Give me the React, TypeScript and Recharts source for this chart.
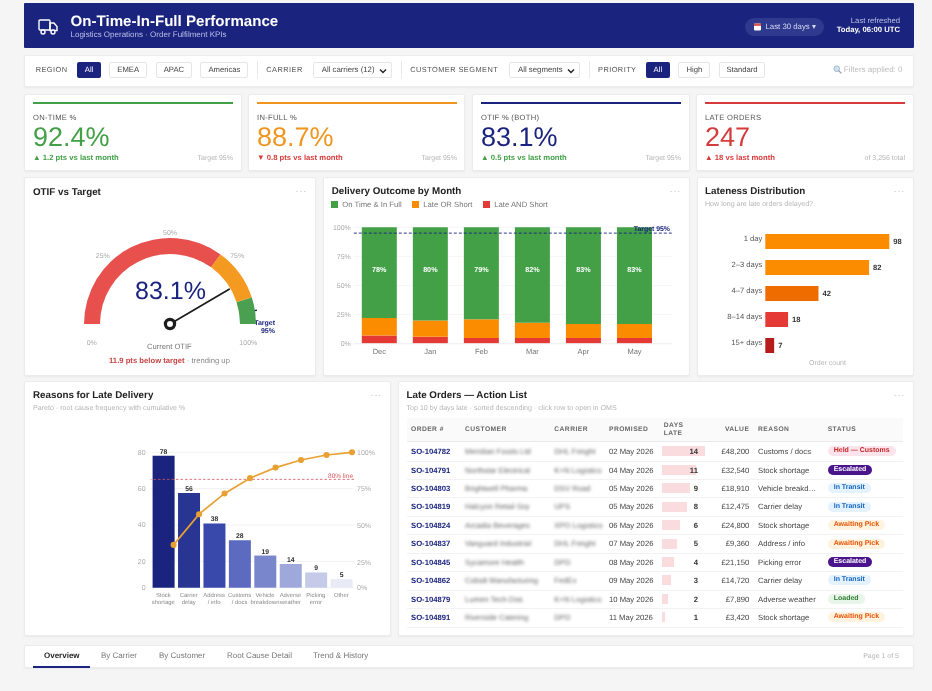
import React from "react";
import {
  PieChart, Pie, Cell, BarChart, Bar, XAxis, YAxis, CartesianGrid, ReferenceLine,
  LabelList, ComposedChart, Line,
} from "recharts";

const NAVY = "#1a237e";
const FONT = "'Liberation Sans', Arial, sans-serif";

// ---------- data ----------
const regionOptions = ["All", "EMEA", "APAC", "Americas"];
const priorityOptions = ["All", "High", "Standard"];
const tabs = ["Overview", "By Carrier", "By Customer", "Root Cause Detail", "Trend & History"];

const kpiLabels = ["ON-TIME %", "IN-FULL %", "OTIF % (BOTH)", "LATE ORDERS"];
const kpiValues = ["92.4%", "88.7%", "83.1%", "247"];
const kpiDeltas = ["▲ 1.2 pts vs last month", "▼ 0.8 pts vs last month", "▲ 0.5 pts vs last month", "▲ 18 vs last month"];
const kpiNotes = ["Target 95%", "Target 95%", "Target 95%", "of 3,256 total"];
const kpiColors = ["#43a047", "#f0951f", NAVY, "#d63b3b"];
const kpiDeltaColors = ["#43a047", "#d63b3b", "#43a047", "#d63b3b"];

const gaugeBands = [
  { name: "Below", value: 70, color: "#e8504e" },
  { name: "Near", value: 20, color: "#f59a20" },
  { name: "On target", value: 10, color: "#4a9f50" },
];
const gaugeCurrent = 83.1;
const gaugeTarget = 95;
const gaugeTicks = [25, 50, 75];

const months = ["Dec", "Jan", "Feb", "Mar", "Apr", "May"];
const onTimeFull = [78, 80, 79, 82, 83, 83];
const lateOrShort = [15, 14, 16, 13, 12, 12];
const lateAndShort = [7, 6, 5, 5, 5, 5];
const outcomeData = months.map((m, i) => ({ m, a: onTimeFull[i], b: lateOrShort[i], c: lateAndShort[i] }));
const outcomeLegend = ["On Time & In Full", "Late OR Short", "Late AND Short"];

const lateBuckets = ["1 day", "2–3 days", "4–7 days", "8–14 days", "15+ days"];
const lateCounts = [98, 82, 42, 18, 7];
const lateColors = ["#fb8c00", "#fb8c00", "#ef6c00", "#e53935", "#b71c1c"];
const lateData = lateBuckets.map((b, i) => ({ b, v: lateCounts[i] }));

const reasons = ["Stock\nshortage", "Carrier\ndelay", "Address\n/ info", "Customs\n/ docs", "Vehicle\nbreakdown", "Adverse\nweather", "Picking\nerror", "Other"];
const reasonCounts = [78, 56, 38, 28, 19, 14, 9, 5];
const reasonCum = [31.6, 54.3, 69.6, 80.9, 88.7, 94.3, 98, 100];
const reasonColors = ["#1a237e", "#283593", "#3949ab", "#5c6bc0", "#7986cb", "#9fa8da", "#c5cae9", "#e8eaf6"];
const paretoData = reasons.map((r, i) => ({ r, n: reasonCounts[i], c: reasonCum[i] }));

const orderIds = ["SO-104782", "SO-104791", "SO-104803", "SO-104819", "SO-104824", "SO-104837", "SO-104845", "SO-104862", "SO-104879", "SO-104891"];
const customers = ["Meridian Foods Ltd", "Northstar Electrical", "Brightwell Pharma", "Halcyon Retail Grp", "Arcadia Beverages", "Vanguard Industrial", "Sycamore Health", "Cobalt Manufacturing", "Lumen Tech Dist.", "Riverside Catering"];
const carriers = ["DHL Freight", "K+N Logistics", "DSV Road", "UPS", "XPO Logistics", "DHL Freight", "DPD", "FedEx", "K+N Logistics", "DPD"];
const promised = ["02 May 2026", "04 May 2026", "05 May 2026", "05 May 2026", "06 May 2026", "07 May 2026", "08 May 2026", "09 May 2026", "10 May 2026", "11 May 2026"];
const daysLate = [14, 11, 9, 8, 6, 5, 4, 3, 2, 1];
const orderValues = ["£48,200", "£32,540", "£18,910", "£12,475", "£24,800", "£9,360", "£21,150", "£14,720", "£7,890", "£3,420"];
const orderReasons = ["Customs / docs", "Stock shortage", "Vehicle breakd…", "Carrier delay", "Stock shortage", "Address / info", "Picking error", "Carrier delay", "Adverse weather", "Stock shortage"];
const orderStatus = ["Held — Customs", "Escalated", "In Transit", "In Transit", "Awaiting Pick", "Awaiting Pick", "Escalated", "In Transit", "Loaded", "Awaiting Pick"];
const statusStyles: Record<string, { bg: string; fg: string }> = {
  "Held — Customs": { bg: "#fce4ec", fg: "#c62828" },
  Escalated: { bg: "#4a148c", fg: "#ffffff" },
  "In Transit": { bg: "#e3f2fd", fg: "#1565c0" },
  "Awaiting Pick": { bg: "#fff3e0", fg: "#e65100" },
  Loaded: { bg: "#e8f5e9", fg: "#2e7d32" },
};

// ---------- helpers ----------
function T({ x, y, right, size, color, bold, spacing, children, style }: any) {
  const pos: any = right !== undefined ? { right: 932 - right } : { left: x };
  return (
    <span style={{ position: "absolute", ...pos, top: y + 0.8, transform: "translateY(-50%)", fontSize: size, color,
      fontWeight: bold ? 700 : 400, letterSpacing: spacing, whiteSpace: "nowrap", lineHeight: 1, ...style }}>
      {children}
    </span>
  );
}

function Card({ x, y, r, b }: any) {
  return <div style={{ position: "absolute", left: x, top: y, width: r - x, height: b - y, background: "#fff",
    border: "1px solid #ececec", boxSizing: "border-box", borderRadius: 2, boxShadow: "0 1px 2px rgba(0,0,0,0.05)" }} />;
}

function Btn({ x, r, label, active }: any) {
  return (
    <div style={{ position: "absolute", left: x, top: 61.5, width: r - x, height: 16, boxSizing: "border-box",
      background: active ? NAVY : "#fff", border: active ? "none" : "1px solid #e6e6e6", borderRadius: 2,
      color: active ? "#fff" : "#444", fontSize: 7.7, display: "flex", alignItems: "center", justifyContent: "center" }}>
      {label}
    </div>
  );
}

function Select({ x, r, label }: any) {
  return (
    <div style={{ position: "absolute", left: x, top: 61.5, width: r - x, height: 16, boxSizing: "border-box",
      background: "#fff", border: "1px solid #e6e6e6", borderRadius: 2, color: "#444", fontSize: 7.8 }}>
      <span style={{ position: "absolute", left: 8, top: 3.5, lineHeight: 1, whiteSpace: "nowrap" }}>{label}</span>
      <svg width="8" height="6" style={{ position: "absolute", right: 4, top: 5 }}>
        <path d="M1 1.5 L4 4.5 L7 1.5" fill="none" stroke="#222" strokeWidth="1.4" />
      </svg>
    </div>
  );
}

function Dots({ right, y }: any) {
  return <T right={right} y={y} size={9} color="#bbb" spacing={0.8}>···</T>;
}

function Kpi({ i }: { i: number }) {
  const lefts = [33, 257, 481, 705];
  const rights = [233, 457, 681, 905];
  const x = lefts[i], r = rights[i];
  return (
    <>
      <div style={{ position: "absolute", left: x, top: 102, width: r - x, height: 2, background: kpiColors[i] }} />
      <T x={x} y={117.4} size={7.6} color="#555" spacing={0.3}>{kpiLabels[i]}</T>
      <T x={x} y={136.2} size={27} color={kpiColors[i]}>{kpiValues[i]}</T>
      <T x={x} y={157} size={7.7} color={kpiDeltaColors[i]} bold>{kpiDeltas[i]}</T>
      <T right={r} y={157} size={7} color="#b5b5b5">{kpiNotes[i]}</T>
    </>
  );
}

// ---------- gauge ----------
const GCX = 146, GCY = 147;
function polar(pct: number, r: number) {
  const a = Math.PI * (1 - pct / 100);
  return { x: GCX + r * Math.cos(a), y: GCY - r * Math.sin(a) };
}
function GaugeOverlay() {
  const tip = polar(gaugeCurrent, 68.6);
  const t1 = polar(gaugeTarget, 70);
  const t2 = polar(gaugeTarget, 88);
  const tick = { fontSize: 7, fill: "#aaa", textAnchor: "middle" as const, dominantBaseline: "central" as const };
  return (
    <g>
      {gaugeTicks.map((v) => {
        const p = polar(v, v === 50 ? 91 : 95);
        return <text key={v} x={p.x} y={p.y} {...tick}>{v}%</text>;
      })}
      <text x={GCX - 78.3} y={GCY + 19.3} {...tick}>0%</text>
      <text x={GCX + 78.3} y={GCY + 19.3} {...tick}>100%</text>
      <line x1={t1.x} y1={t1.y} x2={t2.x} y2={t2.y} stroke="#0d2060" strokeWidth={1.3} />
      <text x={251} y={146.3} fontSize={7} fontWeight={700} fill={NAVY} textAnchor="end" dominantBaseline="central">Target</text>
      <text x={251} y={154.8} fontSize={7} fontWeight={700} fill={NAVY} textAnchor="end" dominantBaseline="central">{gaugeTarget}%</text>
      <line x1={GCX} y1={GCY} x2={tip.x} y2={tip.y} stroke="#1c1c1c" strokeWidth={1.7} strokeLinecap="round" />
      <circle cx={GCX} cy={GCY} r={4.6} fill="#fff" stroke="#1c1c1c" strokeWidth={3.2} />
    </g>
  );
}

// ---------- custom ticks ----------
function LateTick({ x, y, payload }: any) {
  return <text x={x} y={y - 2.7} fontSize={7.6} fill="#555" textAnchor="end" dominantBaseline="central">{payload.value}</text>;
}
function ReasonTick({ x, y, payload }: any) {
  const lines = String(payload.value).split("\n");
  return (
    <text x={x} y={y} fontSize={5.9} fill="#888" textAnchor="middle">
      {lines.map((l, i) => <tspan key={i} x={x} dy={i === 0 ? 7.2 : 6.7}>{l}</tspan>)}
    </text>
  );
}
function PctLabel({ x, y, width, value }: any) {
  return <text x={x + width / 2} y={y + 41.7} fontSize={7.2} fontWeight={700} fill="#fff" textAnchor="middle" dominantBaseline="central">{value}%</text>;
}

// ---------- table ----------
const COL = { order: 411, cust: 465, carrier: 554.3, prom: 609, days: 663.7, valueR: 749.3, reason: 758, status: 827.7 };
const ROW0 = 451.3, ROWH = 18.45;

function Table() {
  const h = { size: 6.7, color: "#666", bold: true, spacing: 0.45 };
  return (
    <>
      <div style={{ position: "absolute", left: 407, top: 418, width: 496, height: 24, background: "#fafafa", borderBottom: "1px solid #eaeaea", boxSizing: "border-box" }} />
      <T x={COL.order} y={429.3} {...h}>ORDER #</T>
      <T x={COL.cust} y={429.3} {...h}>CUSTOMER</T>
      <T x={COL.carrier} y={429.3} {...h}>CARRIER</T>
      <T x={COL.prom} y={429.3} {...h}>PROMISED</T>
      <T x={COL.days} y={425.3} {...h}>DAYS</T>
      <T x={COL.days} y={433} {...h}>LATE</T>
      <T right={COL.valueR} y={429.3} {...h}>VALUE</T>
      <T x={COL.reason} y={429.3} {...h}>REASON</T>
      <T x={COL.status} y={429.3} {...h}>STATUS</T>
      {orderIds.map((id, i) => {
        const y = ROW0 + ROWH * i;
        const st = statusStyles[orderStatus[i]];
        return (
          <React.Fragment key={id}>
            <div style={{ position: "absolute", left: 407, top: y + 9.2, width: 496, height: 1, background: "#f2f2f2" }} />
            <T x={COL.order} y={y} size={7.7} color={NAVY} bold>{id}</T>
            <T x={COL.cust} y={y} size={7.7} color="#666" style={{ filter: "blur(1.5px)" }}>{customers[i]}</T>
            <T x={COL.carrier} y={y} size={7.7} color="#666" style={{ filter: "blur(1.5px)" }}>{carriers[i]}</T>
            <T x={COL.prom} y={y} size={7.7} color="#444">{promised[i]}</T>
            <div style={{ position: "absolute", left: 662, top: y - 5, width: daysLate[i] * 3.07, height: 10, background: "#fadcdf" }} />
            <T right={698} y={y} size={7.7} color="#333" bold>{daysLate[i]}</T>
            <T right={COL.valueR} y={y} size={7.7} color="#444">{orderValues[i]}</T>
            <T x={COL.reason} y={y} size={7.7} color="#444">{orderReasons[i]}</T>
            <span style={{ position: "absolute", left: COL.status, top: y - 5, height: 10, lineHeight: "10px", padding: "0 6px",
              borderRadius: 5, background: st.bg, color: st.fg, fontSize: 7, fontWeight: 700, whiteSpace: "nowrap" }}>{orderStatus[i]}</span>
          </React.Fragment>
        );
      })}
    </>
  );
}

const legendX = [331.3, 412.3, 483.3];
const legendColors = ["#43a047", "#fb8c00", "#e53935"];
const tabX = [44, 101, 159, 227, 313];
const pctTicksShown = [7.5, 25, 50, 75, 100];
const countTicksShown = [5.5, 20, 40, 60, 80];

export default function App() {
  return (
    <div style={{ position: "absolute", left: 0, top: 0, width: 932, height: 691, background: "#f5f5f5", overflow: "hidden", fontFamily: FONT, textRendering: "geometricPrecision", filter: "blur(0.3px)" }}>
      {/* header */}
      <div style={{ position: "absolute", left: 24, top: 3, width: 890, height: 45, background: NAVY, borderRadius: 1 }} />
      <svg width="22" height="18" style={{ position: "absolute", left: 38, top: 18 }} fill="none" stroke="#fff" strokeWidth="1.4">
        <rect x="1" y="2" width="11" height="10" rx="1" />
        <path d="M12 5 H16 L19 8.5 V12.5 H12 Z" />
        <circle cx="5" cy="14" r="2" fill={NAVY} />
        <circle cx="15" cy="14" r="2" fill={NAVY} />
      </svg>
      <T x={70.5} y={21} size={15.1} color="#fff" bold>On-Time-In-Full Performance</T>
      <T x={70.5} y={34.5} size={8} color="#b9c0e8">Logistics Operations · Order Fulfilment KPIs</T>
      <div style={{ position: "absolute", left: 745, top: 17.7, width: 79, height: 18, borderRadius: 9, background: "#2f3a8f" }} />
      <svg width="7" height="8" style={{ position: "absolute", left: 754, top: 22.5 }}>
        <rect x="0" y="0.5" width="7" height="7" rx="1" fill="#fff" />
        <rect x="0" y="0.5" width="7" height="2.4" fill="#d9534f" />
      </svg>
      <T x={765.5} y={26.2} size={7.8} color="#d5d9f2">Last 30 days ▾</T>
      <T right={900} y={20.5} size={7.7} color="#b9c0e8">Last refreshed</T>
      <T right={900} y={29.5} size={7.7} color="#fff" bold>Today, 06:00 UTC</T>

      {/* filters */}
      <Card x={24} y={55} r={914} b={87} />
      <T x={35.7} y={69} size={7.4} color="#555" spacing={0.45}>REGION</T>
      <Btn x={77.3} r={101} label={regionOptions[0]} active />
      <Btn x={109.4} r={147} label={regionOptions[1]} />
      <Btn x={155.8} r={192} label={regionOptions[2]} />
      <Btn x={200.4} r={248.5} label={regionOptions[3]} />
      <div style={{ position: "absolute", left: 257.4, top: 61, width: 1, height: 17, background: "#e8e8e8" }} />
      <T x={266.3} y={69} size={7.4} color="#555" spacing={0.45}>CARRIER</T>
      <Select x={312.7} r={392.4} label="All carriers (12)" />
      <div style={{ position: "absolute", left: 401.3, top: 61, width: 1, height: 17, background: "#e8e8e8" }} />
      <T x={410.2} y={69} size={7.4} color="#555" spacing={0.45}>CUSTOMER SEGMENT</T>
      <Select x={509} r={580.3} label="All segments" />
      <div style={{ position: "absolute", left: 589, top: 61, width: 1, height: 17, background: "#e8e8e8" }} />
      <T x={598} y={69} size={7.4} color="#555" spacing={0.45}>PRIORITY</T>
      <Btn x={645.7} r={670} label={priorityOptions[0]} active />
      <Btn x={678.4} r={710.5} label={priorityOptions[1]} />
      <Btn x={718.8} r={765.2} label={priorityOptions[2]} />
      <svg width="9" height="9" style={{ position: "absolute", left: 832.5, top: 65 }} fill="none">
        <circle cx="3.7" cy="3.7" r="2.8" fill="#cfe3f1" stroke="#9db9cc" strokeWidth="1" />
        <path d="M5.8 5.8 L8.4 8.4" stroke="#8fa3b2" strokeWidth="1.3" />
      </svg>
      <T right={902.5} y={69} size={8} color="#bbb">Filters applied: 0</T>

      {/* KPI */}
      <Card x={24} y={94} r={241.5} b={171} />
      <Card x={248} y={94} r={465} b={171} />
      <Card x={472} y={94} r={690} b={171} />
      <Card x={696} y={94} r={914} b={171} />
      {[0, 1, 2, 3].map((i) => <Kpi key={i} i={i} />)}

      {/* Gauge card */}
      <Card x={24} y={177} r={316} b={376} />
      <T x={33} y={191.7} size={9.8} color="#222" bold>OTIF vs Target</T>
      <Dots right={307} y={190.5} />
      <div style={{ position: "absolute", left: 24, top: 177 }}>
        <PieChart width={292} height={199} margin={{ top: 0, right: 0, bottom: 0, left: 0 }}>
          <Pie data={gaugeBands} dataKey="value" cx={GCX} cy={GCY} startAngle={180} endAngle={0}
            innerRadius={70} outerRadius={86} stroke="none" isAnimationActive={false}>
            {gaugeBands.map((b) => <Cell key={b.name} fill={b.color} />)}
          </Pie>
          <GaugeOverlay />
        </PieChart>
      </div>
      <T x={135} y={290.3} size={25} color={NAVY} style={{ width: 70, textAlign: "center" }}>83.1%</T>
      <T x={147} y={345.7} size={7.6} color="#777">Current OTIF</T>
      <T x={109} y={360} size={7.7} color="#888">
        <b style={{ color: "#c84545" }}>11.9 pts below target</b> · trending up
      </T>

      {/* Delivery outcome */}
      <Card x={323} y={177} r={690} b={376} />
      <T x={331.8} y={191} size={9.8} color="#222" bold>Delivery Outcome by Month</T>
      <Dots right={681} y={190.5} />
      {outcomeLegend.map((l, i) => (
        <React.Fragment key={l}>
          <div style={{ position: "absolute", left: legendX[i], top: 201.2, width: 7, height: 7, background: legendColors[i] }} />
          <T x={legendX[i] + 11} y={204.5} size={7.7} color="#777">{l}</T>
        </React.Fragment>
      ))}
      <div style={{ position: "absolute", left: 323, top: 177 }}>
        <BarChart width={367} height={199} data={outcomeData} margin={{ top: 50.3, right: 18, bottom: 12.3, left: 0 }} barSize={35}>
          <CartesianGrid vertical={false} stroke="#f6f6f6" />
          <XAxis dataKey="m" height={20} axisLine={{ stroke: "#f0f0f0" }} tickLine={false} tickSize={0} padding={{ right: 12 }}
            tick={{ fontSize: 7.5, fill: "#777" }} tickMargin={5} />
          <YAxis width={30.8} domain={[0, 100]} ticks={[0, 25, 50, 75, 100]} axisLine={false} tickLine={false} tickSize={0} interval={0}
            tickFormatter={(v: number) => `${v}%`} tick={{ fontSize: 7, fill: "#aaa" }} tickMargin={3} />
          <Bar dataKey="c" stackId="s" fill="#e53935" isAnimationActive={false} />
          <Bar dataKey="b" stackId="s" fill="#fb8c00" isAnimationActive={false} />
          <Bar dataKey="a" stackId="s" fill="#43a047" isAnimationActive={false}>
            <LabelList dataKey="a" content={PctLabel as any} />
          </Bar>
          <ReferenceLine y={95} stroke={NAVY} strokeDasharray="3 2" strokeWidth={0.9}
            label={{ value: "Target 95%", position: "insideBottomRight", fontSize: 6.9, fontWeight: 700, fill: NAVY, offset: 2 }} />
        </BarChart>
      </div>

      {/* Lateness */}
      <Card x={697} y={177} r={914} b={376} />
      <T x={705} y={191} size={9.8} color="#222" bold>Lateness Distribution</T>
      <T x={705} y={204} size={7.1} color="#b5b5b5">How long are late orders delayed?</T>
      <Dots right={905} y={190.5} />
      <div style={{ position: "absolute", left: 697, top: 177 }}>
        <BarChart width={217} height={199} data={lateData} layout="vertical" margin={{ top: 51, right: 9.5, bottom: 18, left: 0 }} barSize={15}>
          <XAxis type="number" hide domain={[0, 110]} />
          <YAxis type="category" dataKey="b" width={68.3} axisLine={false} tickLine={false} tickSize={0} tick={LateTick as any} tickMargin={3} interval={0} />
          <Bar dataKey="v" isAnimationActive={false}>
            {lateData.map((d, i) => <Cell key={d.b} fill={lateColors[i]} />)}
            <LabelList dataKey="v" position="right" offset={4} style={{ fontSize: 7.6, fontWeight: 700, fill: "#333" }} />
          </Bar>
        </BarChart>
      </div>
      <T x={809} y={362} size={7} color="#b5b5b5">Order count</T>

      {/* Pareto */}
      <Card x={24} y={381} r={391} b={636} />
      <T x={33} y={395} size={9.8} color="#222" bold>Reasons for Late Delivery</T>
      <T x={33} y={408.5} size={7.1} color="#b5b5b5">Pareto · root cause frequency with cumulative %</T>
      <Dots right={382} y={394.5} />
      <div style={{ position: "absolute", left: 24, top: 381 }}>
        <ComposedChart width={367} height={255} data={paretoData} margin={{ top: 71.3, right: 0, bottom: 18.3, left: 0 }}>
          <CartesianGrid vertical={false} stroke="#f2f2f2" yAxisId="countLabels" xAxisId="bar" />
          <XAxis xAxisId="bar" dataKey="r" height={30} interval={0} axisLine={false} tickLine={false} tickSize={0} tick={ReasonTick as any} />
          <XAxis xAxisId="line" dataKey="r" hide height={0} scale="point" padding={{ left: 23, right: 2 }} />
          <YAxis yAxisId="count" hide width={0} domain={[0, 80]} />
          <YAxis yAxisId="countLabels" width={126.6} domain={[5.5, 80]} allowDataOverflow ticks={countTicksShown} interval={0} axisLine={false} tickLine={false} tickSize={0}
            tickFormatter={(v: number) => (v === 5.5 ? "0" : `${v}`)} tick={{ fontSize: 7, fill: "#aaa" }} tickMargin={5} />
          <YAxis yAxisId="pct" orientation="right" hide width={0} domain={[0, 100]} />
          <YAxis yAxisId="pctLabels" orientation="right" width={37} domain={[7.5, 100]} allowDataOverflow ticks={pctTicksShown} interval={0} axisLine={false} tickLine={false} tickSize={0}
            tickFormatter={(v: number) => (v === 7.5 ? "0%" : `${v}%`)} tick={{ fontSize: 7, fill: "#aaa" }} tickMargin={3} />
          {/* invisible carriers so that the label axes are built by the chart */}
          <Line xAxisId="bar" yAxisId="countLabels" dataKey="n" stroke="none" dot={false} activeDot={false} legendType="none" isAnimationActive={false} />
          <Line xAxisId="bar" yAxisId="pctLabels" dataKey="c" stroke="none" dot={false} activeDot={false} legendType="none" isAnimationActive={false} />
          <Bar xAxisId="bar" yAxisId="count" dataKey="n" barSize={22} isAnimationActive={false}>
            {paretoData.map((d, i) => <Cell key={d.r} fill={reasonColors[i]} />)}
            <LabelList dataKey="n" position="top" offset={2} style={{ fontSize: 6.8, fontWeight: 700, fill: "#333" }} />
          </Bar>
          <ReferenceLine xAxisId="bar" yAxisId="pct" y={80} stroke="#d9545a" strokeDasharray="2.5 2" strokeWidth={0.8}
            label={{ value: "80% line", position: "insideBottomRight", fontSize: 6.5, fill: "#d9545a", offset: 1 }} />
          <Line xAxisId="line" yAxisId="pct" dataKey="c" stroke="#e8a033" strokeWidth={1.7} dot={{ r: 2.2, fill: "#e8a033", stroke: "#e8a033" }} isAnimationActive={false} />
        </ComposedChart>
      </div>

      {/* Table */}
      <Card x={398} y={381} r={914} b={636} />
      <T x={406.5} y={395} size={9.8} color="#222" bold>Late Orders — Action List</T>
      <T x={406.5} y={408.5} size={7.1} color="#b5b5b5">Top 10 by days late · sorted descending · click row to open in OMS</T>
      <Dots right={905} y={394.5} />
      <Table />

      {/* tabs */}
      <Card x={24} y={645} r={914} b={668} />
      {tabs.map((t, i) => (
        <T key={t} x={tabX[i]} y={655.2} size={8} color={i === 0 ? "#222" : "#777"} bold={i === 0}>{t}</T>
      ))}
      <div style={{ position: "absolute", left: 33, top: 666, width: 57, height: 2, background: NAVY }} />
      <T right={899} y={655.5} size={7} color="#b5b5b5">Page 1 of 5</T>
    </div>
  );
}
